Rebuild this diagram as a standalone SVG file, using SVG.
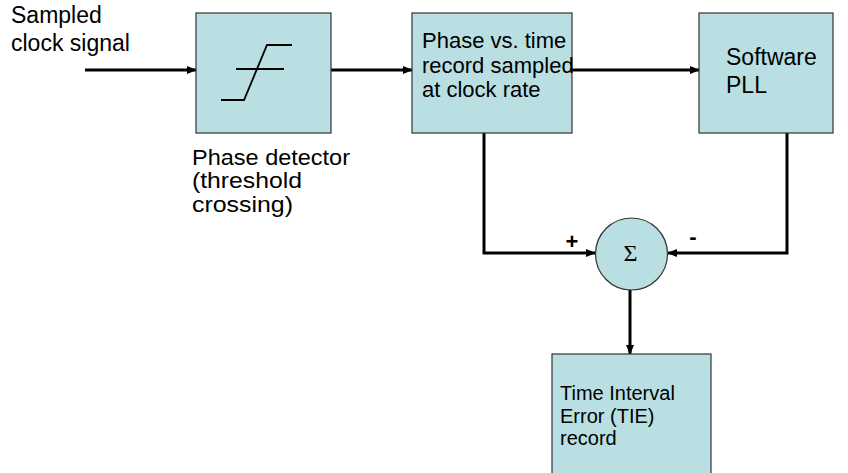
<svg xmlns="http://www.w3.org/2000/svg" width="848" height="473" viewBox="0 0 848 473">
<defs>
<marker id="arr" markerUnits="userSpaceOnUse" markerWidth="10" markerHeight="8" refX="9" refY="4" orient="auto">
<path d="M0,0 L10,4 L0,8 Z" fill="#000"/>
</marker>
<style>
.box{fill:#B9DFE2;stroke:#333;stroke-width:1.2}
.t{font-family:"Liberation Sans",Arial,sans-serif;fill:#000}
.ln{fill:none;stroke:#000;stroke-width:3}
.sym{fill:none;stroke:#000;stroke-width:1.8}
</style>
</defs>
<rect width="848" height="473" fill="#fff"/>
<g id="label-input">
<text class="t" font-size="23" x="11" y="23">Sampled</text>
<text class="t" font-size="23" x="11" y="51">clock signal</text>
</g>
<g id="connectors">
<line class="ln" x1="85" y1="70" x2="196" y2="70" marker-end="url(#arr)"/>
<line class="ln" x1="331" y1="70" x2="412" y2="70" marker-end="url(#arr)"/>
<line class="ln" x1="572" y1="70" x2="699" y2="70" marker-end="url(#arr)"/>
<polyline class="ln" points="484,133 484,253 595,253" marker-end="url(#arr)"/>
<polyline class="ln" points="787,133 787,253 668,253" marker-end="url(#arr)"/>
<line class="ln" x1="630" y1="290" x2="630" y2="354" marker-end="url(#arr)"/>
<text class="t" font-size="22" font-weight="bold" x="572" y="249" text-anchor="middle">+</text>
<text class="t" font-size="22" font-weight="bold" x="693" y="244" text-anchor="middle">-</text>
</g>
<g id="phase-detector">
<rect class="box" x="196" y="13" width="135" height="120"/>
<polyline class="sym" points="221,100 244,100 267,45 292,45"/>
<line class="sym" x1="236" y1="69" x2="284" y2="69"/>
<text class="t" font-size="21.5" x="192" y="165" textLength="158" lengthAdjust="spacingAndGlyphs">Phase detector</text>
<text class="t" font-size="21.5" x="192" y="188" textLength="110" lengthAdjust="spacingAndGlyphs">(threshold</text>
<text class="t" font-size="21.5" x="192" y="212" textLength="101" lengthAdjust="spacingAndGlyphs">crossing)</text>
</g>
<g id="phase-record">
<rect class="box" x="412" y="13" width="160" height="120"/>
<text class="t" font-size="22" x="422" y="48">Phase vs. time</text>
<text class="t" font-size="22" x="422" y="73">record sampled</text>
<text class="t" font-size="22" x="422" y="97">at clock rate</text>
</g>
<g id="software-pll">
<rect class="box" x="699" y="13" width="134" height="120"/>
<text class="t" font-size="23" x="726" y="65">Software</text>
<text class="t" font-size="23" x="726" y="93">PLL</text>
</g>
<g id="sum">
<circle class="box" cx="631.5" cy="254" r="36"/>
<text font-family="'Liberation Serif','Times New Roman',serif" font-size="24" x="630.5" y="261" text-anchor="middle">Σ</text>
</g>
<g id="tie-record">
<rect class="box" x="552" y="354" width="159" height="130"/>
<text class="t" font-size="20" x="560" y="400">Time Interval</text>
<text class="t" font-size="20" x="560" y="423">Error (TIE)</text>
<text class="t" font-size="20" x="560" y="445">record</text>
</g>
</svg>
